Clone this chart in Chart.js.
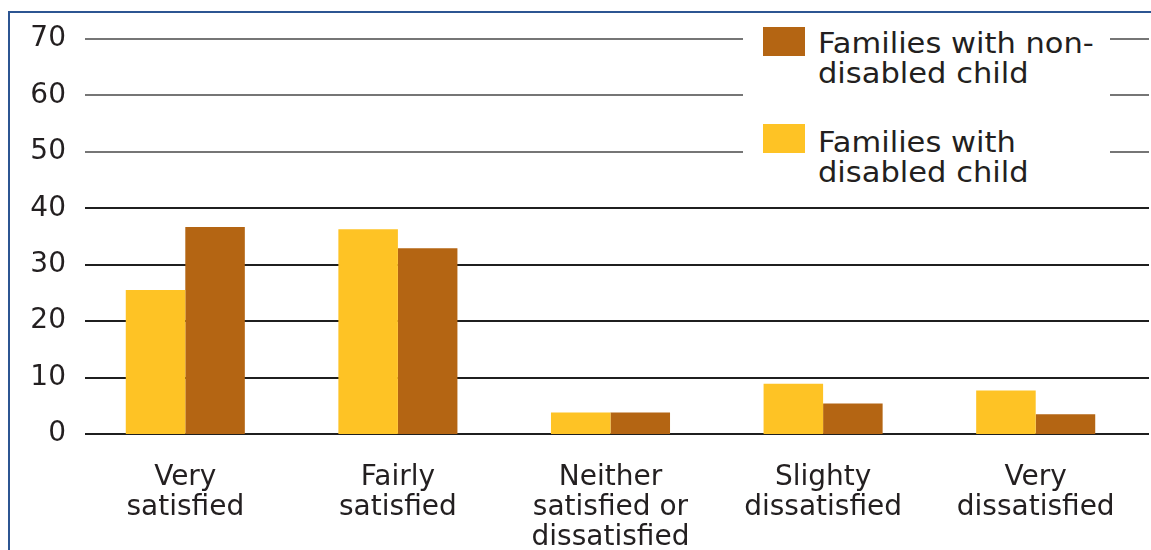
<!DOCTYPE html>
<html>
<head>
<meta charset="utf-8">
<script src="https://cdn.jsdelivr.net/npm/chart.js@4/dist/chart.umd.min.js"></script>
<style>
  html, body { margin: 0; padding: 0; background: #fff; overflow: hidden; }
  #wrap { position: relative; width: 1151px; height: 550px; }
  #frame {
    position: absolute; left: 8px; top: 11px; width: 2000px; height: 2000px;
    border-left: 2px solid #2c5592; border-top: 2px solid #2c5592;
  }
  #legend {
    position: absolute; left: 743px; top: 15px; width: 367px; height: 180px;
    background: #fff; font-family: "DejaVu Sans", sans-serif; font-size: 28px;
    color: #231f20;
  }
  .item { position: absolute; left: 20px; display: flex; align-items: flex-start; }
  .swatch { width: 42px; height: 29px; margin-right: 13px; }
  .txt { line-height: 30px; transform: scaleX(1.09); transform-origin: left top; white-space: nowrap; }
</style>
</head>
<body>
<div id="wrap">
  <div id="frame"></div>
  <canvas id="myChart" width="1151" height="550"></canvas>
  <div id="legend"></div>
</div>
<script>
const categories = [
  ["Very", "satisfied"],
  ["Fairly", "satisfied"],
  ["Neither", "satisfied or", "dissatisfied"],
  ["Slighty", "dissatisfied"],
  ["Very", "dissatisfied"]
]
const disabledLabel = ["Families with", "disabled child"]
const nonDisabledLabel = ["Families with non-", "disabled child"]
const disabledValues = [25.5, 36.3, 3.8, 8.9, 7.7]
const nonDisabledValues = [36.7, 32.9, 3.8, 5.4, 3.5]
const yTicks = [0, 10, 20, 30, 40, 50, 60, 70]

const YELLOW = "#fec325"
const BROWN = "#b46513"

// horizontal rules, drawn a touch to the right like the original
const gridLines = {
  id: "gridLines",
  beforeDatasetsDraw(chart) {
    const { ctx, chartArea, scales } = chart
    ctx.save()
    ctx.lineWidth = 2
    yTicks.forEach(v => {
      const y = Math.round(scales.y.getPixelForValue(v))
      ctx.strokeStyle = v >= 50 ? "#767676" : "#1f1f1f"
      ctx.beginPath()
      ctx.moveTo(chartArea.left + 6, y)
      ctx.lineTo(chartArea.right + 7, y)
      ctx.stroke()
    })
    ctx.restore()
  }
}

const ctx = document.getElementById("myChart")

const chart = new Chart(ctx, {
  type: "bar",
  data: {
    labels: categories,
    datasets: [
      {
        label: disabledLabel.join(" "),
        legendLines: disabledLabel,
        data: disabledValues,
        backgroundColor: YELLOW,
        borderWidth: 0
      },
      {
        label: nonDisabledLabel.join(" "),
        legendLines: nonDisabledLabel,
        data: nonDisabledValues,
        backgroundColor: BROWN,
        borderWidth: 0
      }
    ]
  },
  options: {
    responsive: false,
    animation: false,
    layout: { padding: { left: 0, right: 9, top: 39, bottom: 0 } },
    categoryPercentage: 0.56,
    barPercentage: 1,
    plugins: {
      legend: { display: false },
      tooltip: { enabled: false }
    },
    scales: {
      x: {
        grid: { display: false, drawTicks: false },
        border: { display: false },
        ticks: {
          padding: 29,
          maxRotation: 0,
          autoSkip: false,
          color: "#231f20",
          font: { family: "DejaVu Sans", size: 28, lineHeight: "30px" }
        },
        afterFit(scale) { scale.height = 116 }
      },
      y: {
        min: 0,
        max: 70,
        grid: { display: false, drawTicks: false },
        border: { display: false },
        ticks: {
          stepSize: 10,
          padding: 13,
          color: "#231f20",
          font: { family: "DejaVu Sans", size: 28 }
        },
        afterFit(scale) { scale.width = 79 }
      }
    }
  },
  plugins: [gridLines]
})

// legend as html, non-disabled first like the original
const legend = document.getElementById("legend")
const tops = [12, 109]
chart.data.datasets.slice().reverse().forEach((ds, i) => {
  const item = document.createElement("div")
  item.className = "item"
  item.style.top = tops[i] + "px"
  const sw = document.createElement("div")
  sw.className = "swatch"
  sw.style.background = ds.backgroundColor
  const txt = document.createElement("div")
  txt.className = "txt"
  txt.style.marginTop = (i === 0 ? 2 : 4) + "px"
  txt.innerHTML = ds.legendLines.join("<br>")
  item.appendChild(sw)
  item.appendChild(txt)
  legend.appendChild(item)
})
</script>
</body>
</html>
